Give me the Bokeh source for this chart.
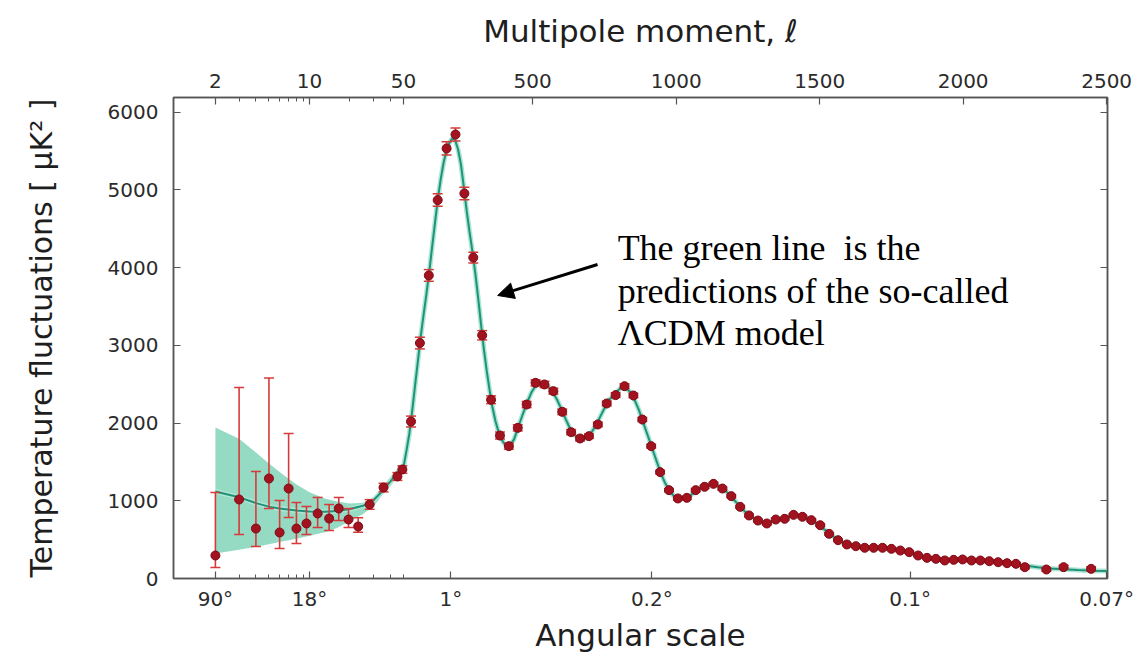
from math import log10
from bokeh.plotting import figure
from bokeh.models import (LinearAxis, FixedTicker, Range1d, Label, Arrow, NormalHead,
                          ColumnDataSource)
from bokeh.embed import file_html
from bokeh.resources import INLINE

# ---------------- data ----------------
# low-l multipoles: l, D_l, lower / upper end of error bar
low_l = [2, 3, 4, 5, 6, 7, 8, 9.5, 11.5, 14, 16.5, 19.5, 23, 28, 35.5, 45, 49]
low_d = [296, 1017, 643, 1287, 592, 1158, 643, 708, 837, 772, 901, 759, 669, 952, 1171, 1313, 1403]
low_hi = [1107, 2458, 1377, 2580, 1004, 1866, 978, 927, 1043, 952, 1043, 901, 781, 1015, 1225, 1363, 1450]
low_lo = [142, 566, 412, 901, 386, 785, 450, 566, 656, 618, 746, 656, 596, 890, 1115, 1263, 1355]

# binned high-l points
high_l = [76, 107, 138, 169, 200, 231, 262, 293, 324, 355,
          386, 417, 448, 479, 510, 541, 572, 603, 634, 665,
          696, 727, 758, 789, 820, 851, 882, 913, 944, 975,
          1006, 1037, 1068, 1099, 1130, 1161, 1192, 1223, 1254, 1285,
          1316, 1347, 1378, 1409, 1440, 1471, 1502, 1533, 1564, 1595,
          1626, 1657, 1688, 1719, 1750, 1781, 1812, 1843, 1874, 1905,
          1936, 1967, 1998, 2029, 2060, 2091, 2122, 2153, 2184, 2215,
          2290, 2350, 2446]
high_d = [2020, 3030, 3900, 4870, 5534, 5714, 4955, 4130, 3130, 2300,
          1840, 1703, 1939, 2239, 2518, 2497, 2411, 2145, 1883, 1802,
          1832, 1982, 2252, 2360, 2475, 2355, 2046, 1703, 1369, 1137,
          1030, 1038, 1137, 1180, 1218, 1158, 1060, 922, 811, 746,
          708, 759, 768, 819, 794, 751, 686, 575, 493, 438,
          416, 395, 395, 395, 382, 360, 339, 296, 266, 253,
          232, 240, 245, 232, 232, 223, 210, 197, 189, 146,
          116, 146, 124]
high_err = [70, 75, 75, 80, 85, 85, 80, 70, 60, 50,
            45, 40, 40, 40, 40, 40, 38, 36, 34, 32,
            30, 30, 30, 30, 30, 28, 26, 24, 22, 20,
            20, 20, 20, 20, 20, 18, 18, 16, 16, 15,
            15, 15, 15, 15, 15, 15, 14, 14, 14, 14,
            14, 14, 14, 14, 14, 14, 14, 14, 14, 14,
            15, 15, 15, 15, 15, 16, 16, 17, 18, 20,
            22, 24, 26]

# LCDM model curve
curve_l = [2, 3, 4, 5, 6, 8, 10, 13, 16, 20,
           25, 30, 35, 40, 45, 50, 60, 70, 80, 90,
           100, 110, 120, 130, 140, 150, 160, 170, 180, 190,
           200, 210, 220, 230, 240, 250, 260, 270, 280, 290,
           300, 310, 320, 330, 340, 350, 360, 370, 380, 390,
           400, 410, 420, 435, 450, 465, 480, 495, 510, 525,
           540, 555, 570, 585, 600, 615, 630, 645, 660, 675,
           690, 705, 720, 735, 750, 765, 780, 795, 810, 825,
           840, 855, 870, 885, 900, 915, 930, 945, 960, 975,
           990, 1005, 1020, 1040, 1060, 1080, 1100, 1120, 1140, 1160,
           1180, 1200, 1220, 1240, 1260, 1280, 1300, 1320, 1340, 1360,
           1380, 1400, 1420, 1440, 1460, 1480, 1500, 1520, 1540, 1560,
           1580, 1600, 1630, 1660, 1690, 1720, 1750, 1780, 1810, 1840,
           1870, 1900, 1940, 1980, 2020, 2060, 2100, 2140, 2180, 2220,
           2260, 2300, 2350, 2400, 2450, 2500]
curve_d = [1120, 1045, 970, 925, 900, 875, 862, 860, 870, 895,
           935, 1010, 1130, 1250, 1360, 1440, 1640, 1860, 2150, 2480,
           2800, 3120, 3400, 3670, 3960, 4280, 4590, 4900, 5150, 5360,
           5510, 5610, 5665, 5640, 5520, 5330, 5040, 4730, 4460, 4210,
           3930, 3610, 3270, 2950, 2670, 2420, 2200, 2030, 1900, 1800,
           1740, 1705, 1710, 1790, 1950, 2110, 2260, 2390, 2480, 2520,
           2510, 2470, 2400, 2300, 2180, 2050, 1930, 1850, 1800, 1790,
           1815, 1880, 1970, 2080, 2190, 2300, 2340, 2410, 2465, 2450,
           2400, 2300, 2170, 2010, 1850, 1690, 1530, 1370, 1240, 1140,
           1070, 1035, 1025, 1040, 1100, 1160, 1195, 1215, 1205, 1165,
           1100, 1020, 935, 860, 795, 750, 720, 710, 735, 765,
           785, 805, 810, 795, 765, 725, 680, 620, 560, 505,
           465, 435, 410, 398, 393, 390, 380, 362, 340, 305,
           272, 255, 240, 238, 234, 228, 218, 202, 185, 165,
           145, 128, 118, 108, 100, 95]

# cosmic-variance band at low l
band_l = [2, 3, 4, 5, 6, 8, 10, 13, 16, 20, 25, 30, 35, 40, 45, 50]
band_hi = [1943, 1800, 1620, 1480, 1370, 1210, 1110, 1030, 990, 965, 975, 1040, 1180, 1310, 1410, 1490]
band_lo = [322, 370, 410, 440, 470, 510, 550, 595, 650, 740, 830, 930, 1080, 1190, 1310, 1390]

# axis ticks
top_tick_l = [2, 10, 50, 500, 1000, 1500, 2000, 2500]
top_tick_labels = ["2", "10", "50", "500", "1000", "1500", "2000", "2500"]
top_minor_l = [3, 4, 5, 6, 7, 8, 9, 20, 30, 40]
bottom_tick_l = [2, 10, 215, 915, 1815, 2500]
bottom_tick_labels = ["90°", "18°", "1°", "0.2°", "0.1°", "0.07°"]
bottom_minor_l = [3, 4, 5, 6, 7, 8, 9, 20, 30, 40, 50]
y_ticks = [0, 1000, 2000, 3000, 4000, 5000, 6000]

# ---------------- hybrid x scale: log for l<50, linear above ----------------
LOG_SPAN = 469.0


def to_u(l):
    return float(l) if l >= 50 else round(50.0 - LOG_SPAN * log10(50.0 / l), 3)


X0 = to_u(2) - 146.0
X1 = 2503.0

p = figure(width=1134, height=657, x_range=Range1d(X0, X1), y_range=Range1d(0, 6190),
           output_backend="svg", toolbar_location=None, x_axis_location="above",
           min_border_left=173, min_border_right=27, min_border_top=97, min_border_bottom=79,
           background_fill_color="white", border_fill_color="white")
p.xgrid.visible = False
p.ygrid.visible = False
p.outline_line_color = "#555555"
p.outline_line_width = 1.5

AX = "#555555"
TICK_FONT = "DejaVu Sans"
TITLE_FONT = "DejaVu Sans"


def style_axis(ax):
    ax.axis_line_color = AX
    ax.axis_line_width = 1.5
    ax.major_tick_line_color = AX
    ax.major_tick_line_width = 1.2
    ax.minor_tick_line_color = AX
    ax.minor_tick_line_width = 1.0
    ax.major_tick_in = 7
    ax.major_tick_out = 0
    ax.minor_tick_in = 4
    ax.minor_tick_out = 0
    ax.major_label_text_font = TICK_FONT
    ax.major_label_text_font_size = "20px"
    ax.major_label_text_color = "#2b2b2b"
    ax.axis_label_text_font = TITLE_FONT
    ax.axis_label_text_font_style = "normal"
    ax.axis_label_text_color = "#1e1e1e"


# top axis: multipole moment
top = p.xaxis[0]
top_ticks = [to_u(l) for l in top_tick_l]
top.ticker = FixedTicker(ticks=top_ticks, minor_ticks=[to_u(l) for l in top_minor_l])
top.major_label_overrides = {t: s for t, s in zip(top_ticks, top_tick_labels)}
style_axis(top)
top.major_label_standoff = 10
top.axis_label = "Multipole moment, ℓ"
top.axis_label_text_font_size = "31px"
top.axis_label_standoff = 22

# bottom axis: angular scale
bot_ticks = [to_u(l) for l in bottom_tick_l]
bottom = LinearAxis(ticker=FixedTicker(ticks=bot_ticks, minor_ticks=[to_u(l) for l in bottom_minor_l]),
                    major_label_overrides={t: s for t, s in zip(bot_ticks, bottom_tick_labels)})
style_axis(bottom)
bottom.major_label_standoff = 8
bottom.axis_label = "Angular scale"
bottom.axis_label_text_font_size = "31px"
bottom.axis_label_standoff = 3
p.add_layout(bottom, "below")

# left axis
left = p.yaxis[0]
left.ticker = FixedTicker(ticks=y_ticks)
style_axis(left)
left.minor_tick_line_color = None
left.major_label_standoff = 15
left.axis_label = "Temperature fluctuations [ μK² ]"
left.axis_label_text_font_size = "30px"
left.axis_label_standoff = 46

# right axis (ticks only)
right = LinearAxis(ticker=FixedTicker(ticks=y_ticks[1:]),
                   major_label_overrides={t: "" for t in y_ticks[1:]})
style_axis(right)
right.minor_tick_line_color = None
right.major_label_standoff = 0
p.add_layout(right, "right")

# ---------------- marks ----------------
p.varea(x=[to_u(l) for l in band_l], y1=band_lo, y2=band_hi,
        fill_color="#8fd8c0", fill_alpha=0.95)

cu = [to_u(l) for l in curve_l]
p.line(cu, curve_d, line_color="#aee6d4", line_width=5)
p.line(cu, curve_d, line_color="#1f937a", line_width=2)

pts_u = [to_u(l) for l in low_l] + [to_u(l) for l in high_l]
pts_d = low_d + high_d
pts_hi = low_hi + [d + e for d, e in zip(high_d, high_err)]
pts_lo = low_lo + [d - e for d, e in zip(high_d, high_err)]
src = ColumnDataSource(data=dict(u=pts_u, d=pts_d, hi=pts_hi, lo=pts_lo))

ERR = "#d63a3a"
p.segment(x0="u", y0="lo", x1="u", y1="hi", source=src, line_color=ERR, line_width=1.6)
p.scatter(x="u", y="hi", source=src, marker="dash", size=10, line_color=ERR, line_width=1.5)
p.scatter(x="u", y="lo", source=src, marker="dash", size=10, line_color=ERR, line_width=1.5)
p.scatter(x="u", y="d", source=src, size=9, fill_color="#a3121f",
          line_color="#7d0c16", line_width=1)

# ---------------- annotation ----------------
NOTE_FONT = "Liberation Serif"
for txt, yy in [("The green line \u00a0is the", 4247),
                ("predictions of the so-called", 3706),
                ("ΛCDM model", 3153)]:
    p.add_layout(Label(x=796, y=yy, text=txt, text_font=NOTE_FONT, text_font_size="36px",
                       text_color="black", text_align="left", text_baseline="alphabetic"))

p.add_layout(Arrow(end=NormalHead(size=16, fill_color="black", line_color="black"),
                   x_start=726, y_start=4041, x_end=378, y_end=3642,
                   line_color="black", line_width=3))

open("out.html", "w").write(file_html(p, INLINE))
